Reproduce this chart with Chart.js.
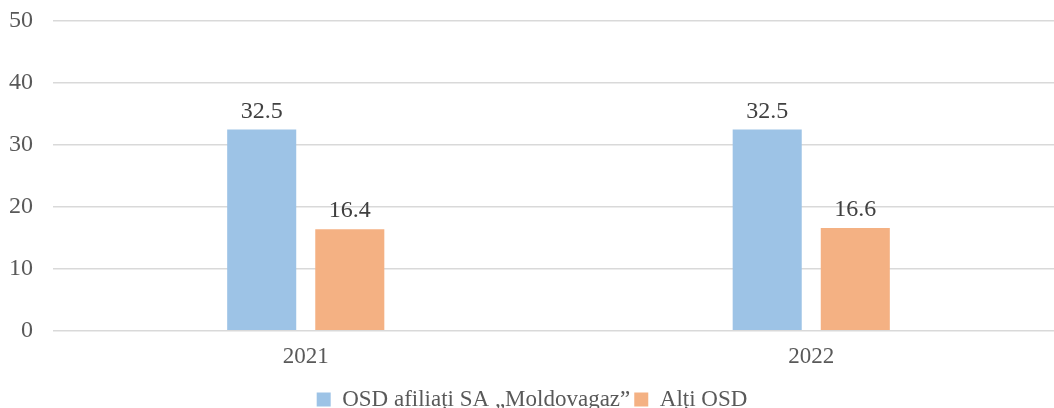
<!DOCTYPE html>
<html>
<head>
<meta charset="utf-8">
<script src="https://cdn.jsdelivr.net/npm/chart.js@4/dist/chart.umd.min.js"></script>
<style>
  html, body { margin: 0; padding: 0; background: #fff; overflow: hidden; }
  #wrap { width: 1064px; height: 408px; }
</style>
</head>
<body>
<div id="wrap"><canvas id="chart"></canvas></div>
<script>
const years = ["2021", "2022"];
const moldovagaz = [32.5, 32.5];
const altiOsd = [16.4, 16.6];
const yTicks = [0, 10, 20, 30, 40, 50];

const FONT = "'Liberation Serif', 'Times New Roman', serif";

// value labels above each bar
const barLabels = {
  id: "barLabels",
  afterDatasetsDraw(chart) {
    const ctx = chart.ctx;
    ctx.save();
    ctx.font = "24px " + FONT;
    ctx.fillStyle = "#404040";
    ctx.textAlign = "center";
    ctx.textBaseline = "bottom";
    chart.data.datasets.forEach((ds, i) => {
      chart.getDatasetMeta(i).data.forEach((bar, j) => {
        ctx.fillText(ds.data[j].toFixed(1), bar.x, bar.y - 6);
      });
    });
    ctx.restore();
  }
};

new Chart(document.getElementById("chart"), {
  type: "bar",
  data: {
    labels: years,
    datasets: [
      { label: "OSD afiliați SA „Moldovagaz”", data: moldovagaz, backgroundColor: "#9dc3e6" },
      { label: "Alți OSD", data: altiOsd, backgroundColor: "#f4b183" }
    ]
  },
  options: {
    responsive: true,
    maintainAspectRatio: false,
    animation: false,
    categoryPercentage: 0.3485,
    barPercentage: 0.784,
    layout: { padding: { top: 21, left: 0, right: 0, bottom: -13 } },
    plugins: {
      tooltip: { enabled: false },
      legend: {
        position: "bottom",
        labels: { color: "#595959", font: { family: FONT, size: 23 }, boxWidth: 14, boxHeight: 14, padding: 4 }
      }
    },
    scales: {
      x: {
        grid: { display: false, drawTicks: false },
        border: { display: false },
        ticks: { color: "#595959", font: { family: FONT, size: 23, lineHeight: 0.66 }, padding: 19 }
      },
      y: {
        min: 0,
        max: 50,
        afterFit(scale) {
          scale.width = 53;
          scale.paddingTop = 0;
          scale.paddingBottom = 0;
        },
        afterBuildTicks(scale) { scale.ticks = yTicks.map(v => ({ value: v })); },
        grid: { color: "#d9d9d9", lineWidth: 1.5, drawTicks: false },
        border: { display: false },
        ticks: { color: "#595959", font: { family: FONT, size: 24 }, padding: 20 }
      }
    }
  },
  plugins: [barLabels]
});
</script>
</body>
</html>
